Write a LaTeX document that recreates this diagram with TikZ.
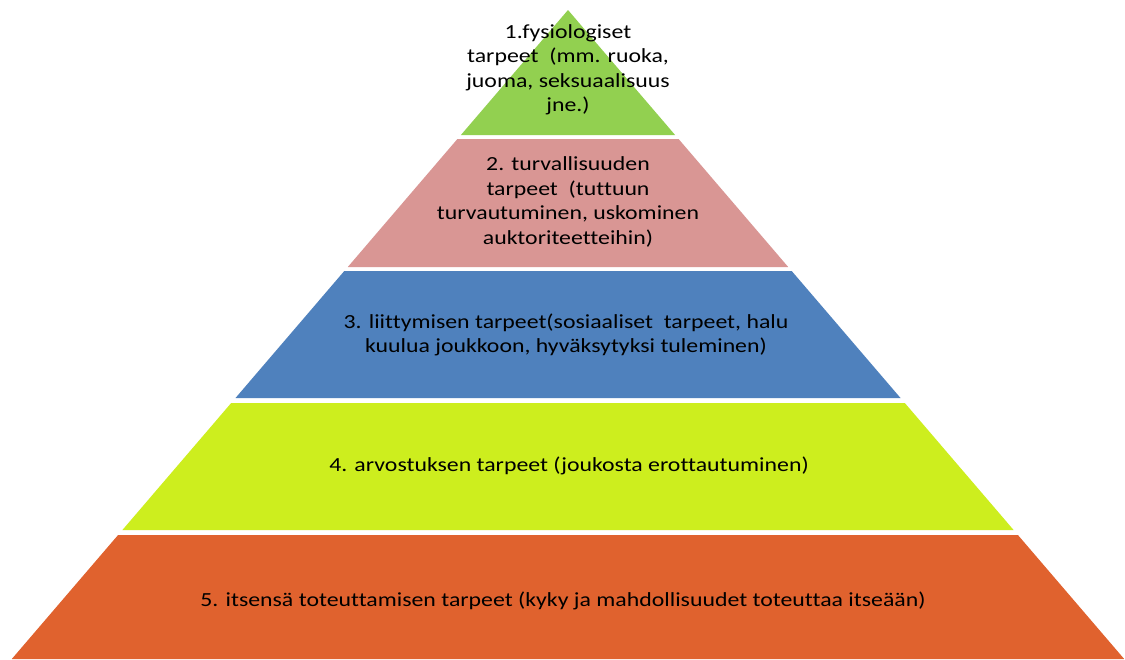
\documentclass[tikz,border=0pt]{standalone}
\usepackage{fontspec}
\setmainfont{Carlito}[Ligatures=NoCommon]
\definecolor{lvone}{HTML}{92D050}
\definecolor{lvtwo}{HTML}{D99694}
\definecolor{lvthree}{HTML}{4F81BD}
\definecolor{lvfour}{HTML}{CDEE1E}
\definecolor{lvfive}{HTML}{E0622E}
\begin{document}
\begin{tikzpicture}[x=1pt,y=-1pt,
  lbl/.style={align=center,text=black,font=\fontsize{20}{24.5}\selectfont,inner sep=0pt,xscale=1.19}]
\useasboundingbox (0,0) rectangle (1125,659);
\fill[white] (0,0) rectangle (1125,659);
% layers
\fill[lvone] (568,10) -- (675.1,135) -- (460.9,135) -- cycle;
\fill[lvtwo] (457.4,139) -- (678.6,139) -- (788.2,267) -- (347.8,267) -- cycle;
\fill[lvthree] (344.3,271) -- (791.7,271) -- (900.5,398) -- (235.5,398) -- cycle;
\fill[lvfour] (231.2,403) -- (904.8,403) -- (1013.6,530) -- (122.4,530) -- cycle;
\fill[lvfive] (118.1,535) -- (1017.9,535) -- (1124.2,659) -- (11.8,659) -- cycle;
% labels
\node[lbl] (t1) at (568,70) {1.fysiologiset\\tarpeet~ (mm. ruoka,\\juoma, seksuaalisuus\\jne.)};
\node[lbl] (t2) at (568,202) {2. turvallisuuden\\tarpeet~ (tuttuun\\turvautuminen, uskominen\\auktoriteetteihin)};
\node[lbl] (t3) at (566,335) {3. liittymisen tarpeet(sosiaaliset~ tarpeet, halu\\kuulua joukkoon, hyväksytyksi tuleminen)};
\node[lbl] (t4) at (569,466) {4. arvostuksen tarpeet (joukosta erottautuminen)};
\node[lbl] (t5) at (563,601) {5. itsensä toteuttamisen tarpeet (kyky ja mahdollisuudet toteuttaa itseään)};
\end{tikzpicture}
\end{document}
